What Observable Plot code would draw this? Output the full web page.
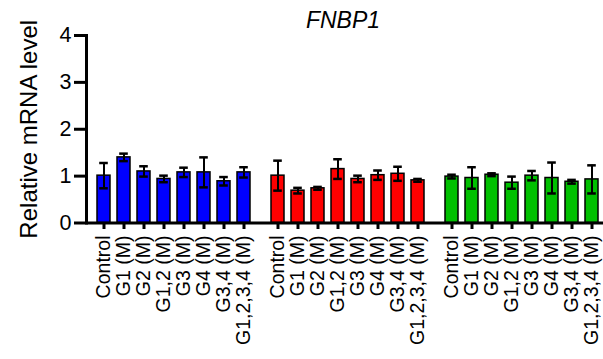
<!DOCTYPE html>
<html>
<head>
<meta charset="utf-8">
<script src="https://cdn.jsdelivr.net/npm/d3@7"></script>
<script src="https://cdn.jsdelivr.net/npm/@observablehq/plot@0.6"></script>
<style>
  html, body { margin: 0; padding: 0; background: white; overflow: hidden; }
  #wrap { position: relative; width: 603px; height: 359px; }
  #title { position: absolute; left: 243px; top: 8.7px; width: 200px; text-align: center;
    font-family: "Liberation Sans", Arial, sans-serif; font-style: italic; font-size: 23px; line-height: 23px; color: black; }
  svg g[aria-label="x-axis tick label"] { font-size: 19.5px; }
  svg g[aria-label="y-axis tick label"] { font-size: 21.5px; }
  svg g[aria-label="y-axis label"] { font-size: 24px; }
  svg g[aria-label="x-axis tick"] path, svg g[aria-label="y-axis tick"] path { stroke-width: 3px; }
  svg g[aria-label="frame"] line { stroke-width: 3px !important; }
</style>
</head>
<body>
<div id="wrap"><div id="title">FNBP1</div></div>
<script>
const groups = ["Blue", "Red", "Green"];
const groupColors = ["#0000ff", "#ff0000", "#00c000"];
const labels = ["Control", "G1 (M)", "G2 (M)", "G1,2 (M)", "G3 (M)", "G4 (M)", "G3,4 (M)", "G1,2,3,4 (M)"];
const yTicks = [0, 1, 2, 3, 4];

const blueMean  = [1.01, 1.40, 1.10, 0.94, 1.08, 1.08, 0.89, 1.08];
const blueErr   = [0.27, 0.08, 0.11, 0.07, 0.10, 0.32, 0.09, 0.11];
const redMean   = [1.01, 0.69, 0.74, 1.15, 0.94, 1.02, 1.05, 0.91];
const redErr    = [0.32, 0.06, 0.03, 0.21, 0.07, 0.10, 0.15, 0.03];
const greenMean = [0.99, 0.96, 1.03, 0.86, 1.01, 0.96, 0.88, 0.93];
const greenErr  = [0.04, 0.23, 0.03, 0.13, 0.10, 0.33, 0.04, 0.30];

const means = [blueMean, redMean, greenMean];
const errs = [blueErr, redErr, greenErr];
const data = [];
groups.forEach((g, gi) => labels.forEach((l, i) => data.push({
  group: g, color: groupColors[gi], label: l, value: means[gi][i],
  lo: means[gi][i] - errs[gi][i], hi: means[gi][i] + errs[gi][i]
})));

const chart = Plot.plot({
  width: 603,
  height: 359,
  marginLeft: 85,
  marginRight: -5,
  marginTop: 35,
  marginBottom: 136.5,
  style: {fontFamily: "'Liberation Sans', Arial, sans-serif", color: "black", background: "white"},
  fx: {domain: groups, padding: 0, axis: null, label: null},
  x: {domain: labels, paddingInner: 0.35, paddingOuter: 0.506, tickRotate: -90, tickSize: 6.5, tickPadding: 6, label: null},
  y: {domain: [0, 4], ticks: yTicks, tickFormat: d => String(d), tickSize: 12, tickPadding: 3, line: true,
      label: "Relative mRNA level", labelArrow: "none", labelAnchor: "center", labelOffset: 67},
  color: {type: "identity"},
  marks: [
    Plot.barY(data, {fx: "group", x: "label", y: "value", fill: "color", stroke: "black", strokeWidth: 1.5}),
    Plot.ruleX(data, {fx: "group", x: "label", y1: "lo", y2: "hi", stroke: "black", strokeWidth: 2}),
    Plot.tickY(data, {fx: "group", x: "label", y: "hi", stroke: "black", strokeWidth: 2.5, insetLeft: 2.2, insetRight: 2.2}),
    Plot.tickY(data, {fx: "group", x: "label", y: "lo", stroke: "black", strokeWidth: 2.5, insetLeft: 2.2, insetRight: 2.2}),
    Plot.ruleY([0], {stroke: "black", strokeWidth: 3})
  ]
});
document.getElementById("wrap").appendChild(chart);
</script>
</body>
</html>
